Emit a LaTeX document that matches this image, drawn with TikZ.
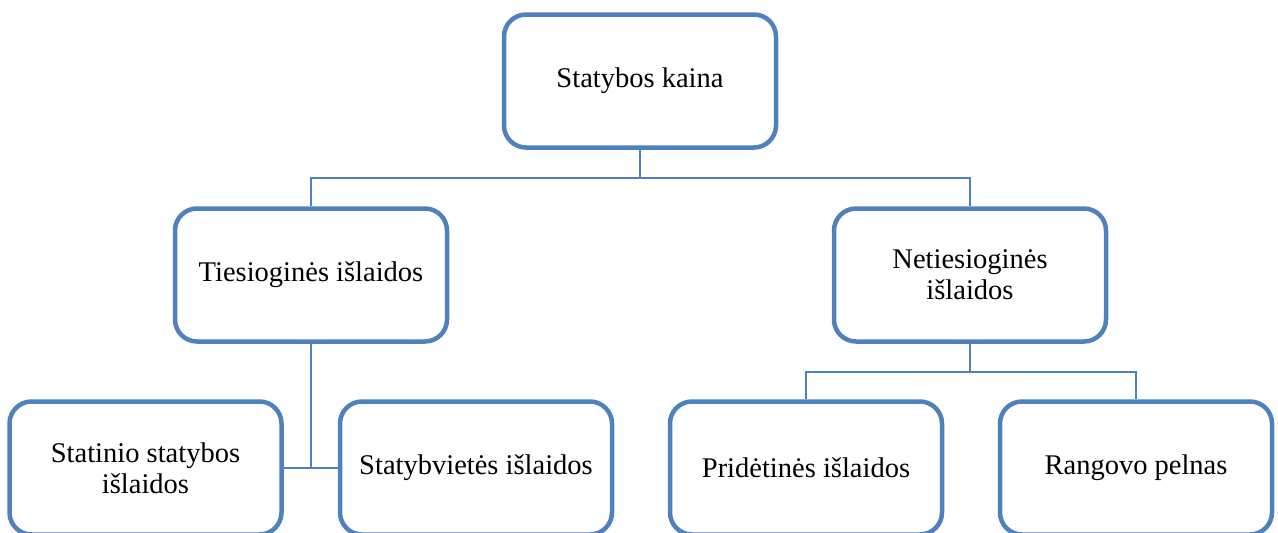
\documentclass[tikz,border=0pt]{standalone}
\usepackage{fontspec}
\setmainfont{Liberation Serif}
\definecolor{boxblue}{HTML}{4F81BD}
\begin{document}
\begin{tikzpicture}[x=1pt,y=-1pt,
  box/.style={draw=boxblue,line width=4.5pt,rounded corners=22pt,fill=white,
    minimum width=#1,minimum height=133pt,align=center,inner sep=0pt,
    font=\fontsize{28.5}{31}\selectfont},
  box/.default=272pt,
  conn/.style={draw=boxblue,line width=1.4pt}]
\useasboundingbox (0,0) rectangle (1278,533);
\clip (0,0) rectangle (1278,533);
\node[box] (top) at (640,81) {Statybos kaina};
\node[box] (tie) at (311,275) {Tiesioginės išlaidos};
\node[box] (net) at (970,275) {Netiesioginės\\išlaidos};
\node[box] (sta) at (145.5,468) {Statinio statybos\\išlaidos};
\node[box] (svt) at (476,468) {Statybvietės išlaidos};
\node[box] (pri) at (806,468) {Pridėtinės išlaidos};
\node[box] (ran) at (1136,468) {Rangovo pelnas};
\coordinate (j1) at (640,178);
\coordinate (j2) at (311,468);
\coordinate (j3) at (970,372);
\draw[conn] (top.south) -- (j1);
\draw[conn] (j1) -| (tie.north);
\draw[conn] (j1) -| (net.north);
\draw[conn] (tie.south) -- (j2);
\draw[conn] (j2) -- (sta.east);
\draw[conn] (j2) -- (svt.west);
\draw[conn] (net.south) -- (j3);
\draw[conn] (j3) -| (pri.north);
\draw[conn] (j3) -| (ran.north);
\end{tikzpicture}
\end{document}
